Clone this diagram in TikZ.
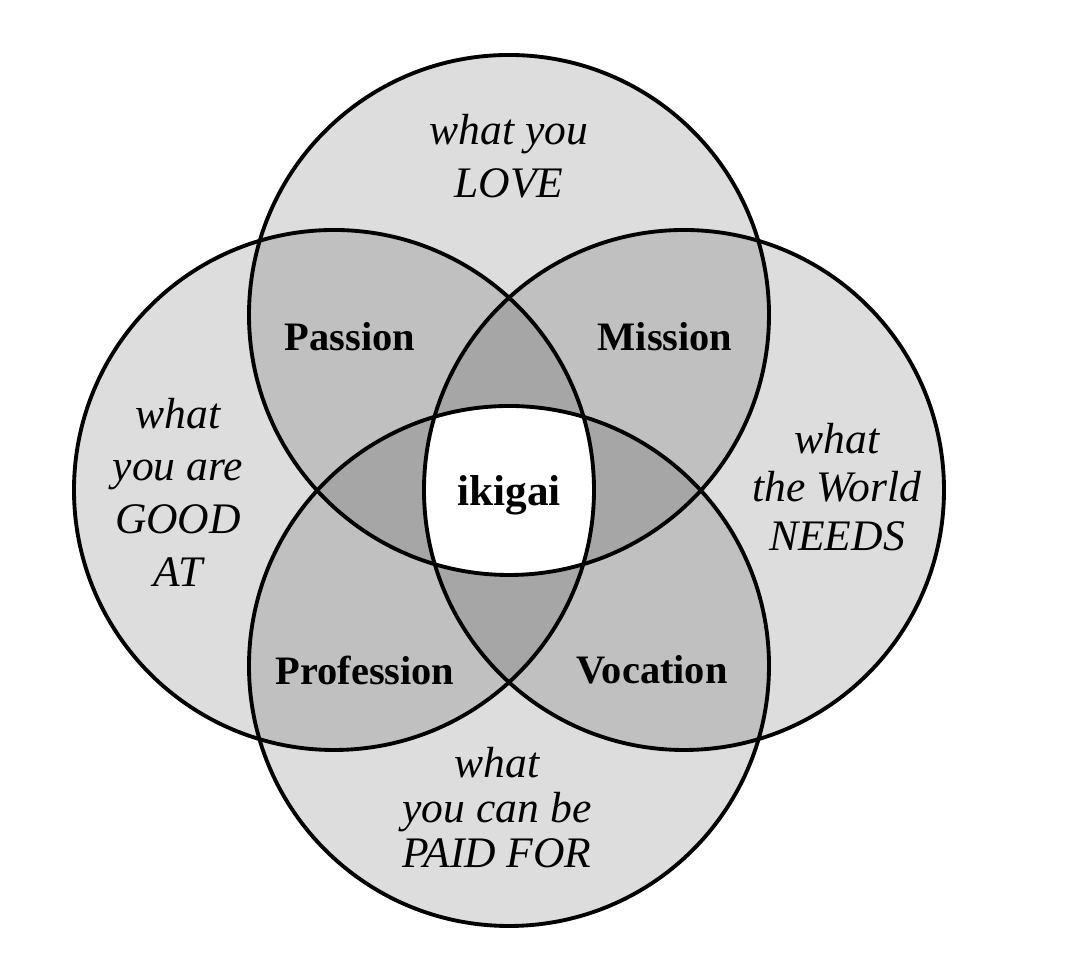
\documentclass[tikz,border=0pt]{standalone}
\usepackage{fontspec}
\setmainfont{Liberation Serif}

\begin{document}
\begin{tikzpicture}[
        zone/.style={fill=black, fill opacity=0.135},
        rim/.style={line width=1.1pt},
        what/.style={font=\fontsize{12.4}{#1}\selectfont\itshape, align=center},
        what/.default=15,
        pair/.style={font=\fontsize{11.5}{14}\selectfont\bfseries}]
    \useasboundingbox (-5.09,-4.90) rectangle (5.71,4.90);
    \coordinate (love)  at (0, 1.75);
    \coordinate (good)  at (-1.75, 0);
    \coordinate (world) at (1.75, 0);
    \coordinate (paid)  at (0, -1.76);
    % shaded circles, overlaps get darker
    \foreach \c in {love, good, world, paid}
        \fill[zone] (\c) circle (2.6);
    % the middle is left white
    \begin{scope}
        \clip (love) circle (2.6);
        \clip (good) circle (2.6);
        \clip (world) circle (2.6);
        \fill[white] (paid) circle (2.6);
    \end{scope}
    \foreach \c in {love, good, world, paid}
        \draw[rim] (\c) circle (2.6);
    \node(love_t)  at(0, 3.34)     [what]    {what you\\LOVE};
    \node(good_t)  at(-3.31, -0.02) [what]   {what\\you are\\GOOD\\AT};
    \node(world_t) at(3.28, 0.03)  [what=13.7] {what\\the World\\NEEDS};
    \node(paid_t)  at(-0.12, -3.18) [what=12.8] {what\\you can be\\PAID FOR};
    \node(passion)    at(-1.59, 1.53)  [pair] {Passion};
    \node(mission)    at(1.56, 1.53)   [pair] {Mission};
    \node(profession) at(-1.44, -1.80) [pair] {Profession};
    \node(vocation)   at(1.43, -1.80)  [pair] {Vocation};
    \node(ikigai)     at(0, -0.05)     [pair, font=\fontsize{12.3}{14}\selectfont\bfseries] {ikigai};
\end{tikzpicture}
\end{document}
